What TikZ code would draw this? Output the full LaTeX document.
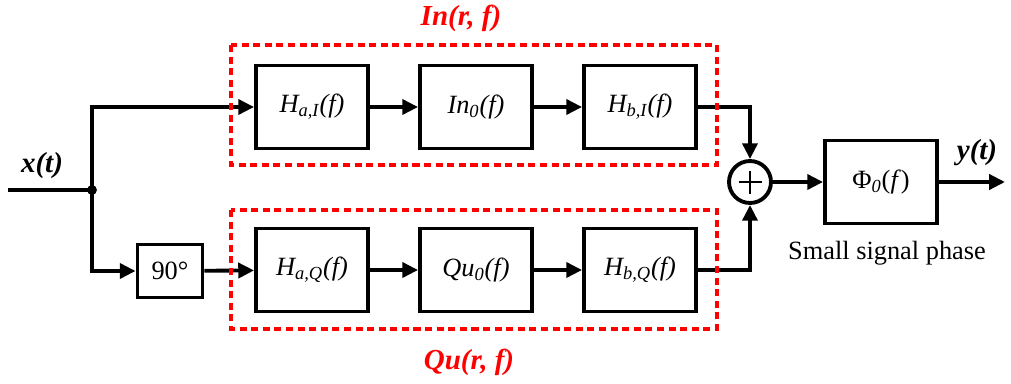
\documentclass[tikz,border=0pt]{standalone}
\usepackage{fontspec}
\setmainfont{Liberation Serif}
\usetikzlibrary{arrows.meta}

\begin{document}
\begin{tikzpicture}[x=0.02cm, y=-0.02cm, line width=2.2pt,
  >={Triangle[length=9pt,width=8.5pt]},
  txt/.style={font=\fontsize{15}{18}\selectfont},
  blk/.style={draw, txt, minimum width=2.24cm, minimum height=1.66cm, inner sep=0pt},
  region/.style={red, line width=1.8pt, dash pattern=on 4pt off 2.6pt},
  sig/.style={txt, font=\fontsize{16.5}{18}\selectfont\bfseries\itshape}]
  \useasboundingbox (0,0) rectangle (1011,383);

  % input and split point
  \coordinate (xin) at (8,190);
  \coordinate (split) at (92,190);
  \draw (xin) -- (split);
  \fill (split) circle (2.8pt);
  \node[sig] (xlbl) at (42,166) {x(t)};

  % I branch
  \node[blk] (HaI) at (312,107) {\itshape H\textsubscript{a,I}(f)};
  \node[blk] (In0) at (476,107) {\itshape In\textsubscript{0}(f)};
  \node[blk] (HbI) at (640,107) {\itshape H\textsubscript{b,I}(f)};

  % Q branch
  \node[draw, txt, minimum width=1.3cm, minimum height=1.06cm, inner sep=0pt] (d90) at (170,271) {90°};
  \node[blk] (HaQ) at (312,270) {\itshape H\textsubscript{a,Q}(f)};
  \node[blk] (Qu0) at (476,270) {\itshape Qu\textsubscript{0}(f)};
  \node[blk] (HbQ) at (640,270) {\itshape H\textsubscript{b,Q}(f)};

  % adder and phase block
  \node[draw, circle, minimum size=0.84cm, inner sep=0pt,
    path picture={\draw[line width=1.6pt] (path picture bounding box.center) ++(-0.23cm,0) -- ++(0.46cm,0);
                  \draw[line width=1.6pt] (path picture bounding box.center) ++(0,-0.23cm) -- ++(0,0.46cm);}] (sum) at (750,182) {};
  \node[blk] (Phi) at (881,182) {Φ\textsubscript{\itshape 0}(\textit{f})};
  \node[txt] (phlbl) at (887,253) {Small signal phase};
  \coordinate (yout) at (1005,182);
  \node[sig] (ylbl) at (977,153) {y(t)};

  % connections
  \draw[->] (split) |- (HaI.west);
  \draw[->] (split) |- (d90.west);
  \draw[->] (d90) -- (HaQ);
  \draw[->] (HaI) -- (In0);
  \draw[->] (In0) -- (HbI);
  \draw[->] (HaQ) -- (Qu0);
  \draw[->] (Qu0) -- (HbQ);
  \draw[->] (HbI.east) -| (sum.north);
  \draw[->] (HbQ.east) -| (sum.south);
  \draw[->] (sum) -- (Phi);
  \draw[->] (Phi) -- (yout);

  % dashed regions
  \draw[region] (231,45) rectangle (717,165);
  \draw[region] (231,210) rectangle (717,329);
  \node[sig, red] (inlbl) at (461,18) {In(r, f)};
  \node[sig, red] (qulbl) at (469,362) {Qu(r, f)};
\end{tikzpicture}
\end{document}
